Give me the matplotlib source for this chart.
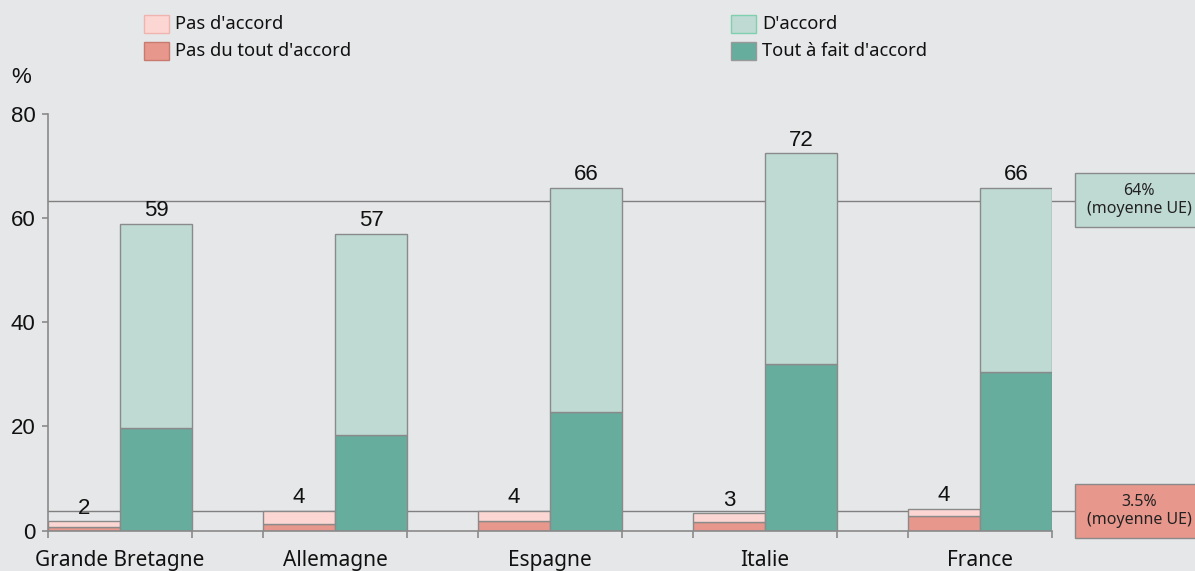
import matplotlib
matplotlib.use("Agg")
import matplotlib.pyplot as plt
from matplotlib.patches import Rectangle
import numpy as np

categories = ["Grande Bretagne", "Allemagne", "Espagne", "Italie", "France"]
pas_du_tout = [0.8, 1.3, 1.8, 1.6, 2.8]
pas_total = [1.8, 3.8, 3.8, 3.3, 4.2]
tout_a_fait = [19.7, 18.4, 22.8, 32.0, 30.5]
accord_total = [58.9, 57.0, 65.7, 72.4, 65.7]
pas_labels = ["2", "4", "4", "3", "4"]
accord_labels = ["59", "57", "66", "72", "66"]
avg_accord = 63.3
avg_pas = 3.8
avg_accord_label = "64%\n(moyenne UE)"
avg_pas_label = "3.5%\n(moyenne UE)"
yticks = [0, 20, 40, 60, 80]
legend_labels = ["Pas d'accord", "Pas du tout d'accord", "D'accord", "Tout à fait d'accord"]

BG = "#e6e7e9"
C_PINK = "#fcd6d3"
C_RED = "#e8978c"
C_LGREEN = "#bfdad3"
C_DGREEN = "#67ad9d"
EDGE = "#8a8a8a"
NUMFONT = "Liberation Sans"
TXTFONT = "Noto Sans"

W, H = 1195, 571
fig = plt.figure(figsize=(W / 100, H / 100), dpi=100, facecolor=BG)
ax_left, ax_right = 48, 1052
ax_bottom, ax_top = 530.7, 113.7
ax = fig.add_axes([ax_left / W, (H - ax_bottom) / H, (ax_right - ax_left) / W, (ax_bottom - ax_top) / H])
ax.set_facecolor(BG)

bw = 72 / 215.0
x = np.arange(len(categories))
ax.set_xlim(-bw, x[-1] + bw)
ax.set_ylim(0, 80)

# average lines (behind bars), extended beyond the axes to the boxes
line_end = x[-1] + bw + 23 / 215.0
for v in (avg_accord, avg_pas):
    ax.plot([-bw, line_end], [v, v], color="#808080", lw=1.0, zorder=1, clip_on=False)

pink_rest = [t - d for t, d in zip(pas_total, pas_du_tout)]
lg_rest = [t - d for t, d in zip(accord_total, tout_a_fait)]
ax.bar(x - bw / 2, pas_du_tout, width=bw, color=C_RED, edgecolor=EDGE, lw=1, zorder=2)
ax.bar(x - bw / 2, pink_rest, bottom=pas_du_tout, width=bw, color=C_PINK, edgecolor=EDGE, lw=1, zorder=2)
ax.bar(x + bw / 2, tout_a_fait, width=bw, color=C_DGREEN, edgecolor=EDGE, lw=1, zorder=2)
ax.bar(x + bw / 2, lg_rest, bottom=tout_a_fait, width=bw, color=C_LGREEN, edgecolor=EDGE, lw=1, zorder=2)

for i in range(len(categories)):
    ax.annotate(pas_labels[i], (x[i] - bw / 2, pas_total[i]), xytext=(0, 2), textcoords="offset points",
                ha="center", va="bottom", fontsize=16, family=NUMFONT, color="#111111", zorder=3)
    ax.annotate(accord_labels[i], (x[i] + bw / 2, accord_total[i]), xytext=(0, 2), textcoords="offset points",
                ha="center", va="bottom", fontsize=16, family=NUMFONT, color="#111111", zorder=3)

for s in ("top", "right"):
    ax.spines[s].set_visible(False)
for s in ("left", "bottom"):
    ax.spines[s].set_color(EDGE)
    ax.spines[s].set_linewidth(1.2)

ax.set_yticks(yticks)
ax.set_yticklabels([str(t) for t in yticks], family=NUMFONT, fontsize=16, color="#111111")
ax.tick_params(axis="y", length=4, width=1.2, color=EDGE, pad=5)

edges = sorted(list(x - bw) + list(x) + list(x + bw))
ax.set_xticks(edges, minor=True)
ax.set_xticks(x)
ax.set_xticklabels(categories, family=TXTFONT, fontsize=15, color="#111111")
ax.tick_params(axis="x", which="minor", length=5, width=1.2, color=EDGE, direction="out")
ax.tick_params(axis="x", which="major", length=0, pad=14)

fig.text(11 / W, 1 - 77 / H, "%", family=NUMFONT, fontsize=16, ha="left", va="center", color="#111111")

# average boxes
def box(y0, y1, fc, label):
    r = Rectangle((1075 / W, 1 - y1 / H), 140 / W, (y1 - y0) / H, transform=fig.transFigure,
                  facecolor=fc, edgecolor=EDGE, lw=1, zorder=5)
    fig.patches.append(r)
    fig.text(1139 / W, 1 - (y0 + y1) / 2 / H, label, ha="center", va="center", fontsize=11.5,
             family=TXTFONT, color="#222222", linespacing=1.2, zorder=6)

box(173, 227, C_LGREEN, avg_accord_label)
box(484, 538, C_RED, avg_pas_label)

# legend
def legend_item(xp, yp, fc, ec, label):
    r = Rectangle((xp / W, 1 - (yp + 9.5) / H), 25 / W, 18 / H, transform=fig.transFigure,
                  facecolor=fc, edgecolor=ec, lw=1)
    fig.patches.append(r)
    fig.text((xp + 31) / W, 1 - (yp + 1) / H, label, ha="left", va="center", fontsize=13.2,
             family=TXTFONT, color="#111111")

legend_item(144, 23, C_PINK, "#f0b4b0", legend_labels[0])
legend_item(144, 50, C_RED, "#c87a70", legend_labels[1])
legend_item(731, 23, C_LGREEN, "#7fd0ae", legend_labels[2])
legend_item(731, 50, C_DGREEN, "#999999", legend_labels[3])

fig.savefig("out.png", dpi=100, facecolor=BG)
